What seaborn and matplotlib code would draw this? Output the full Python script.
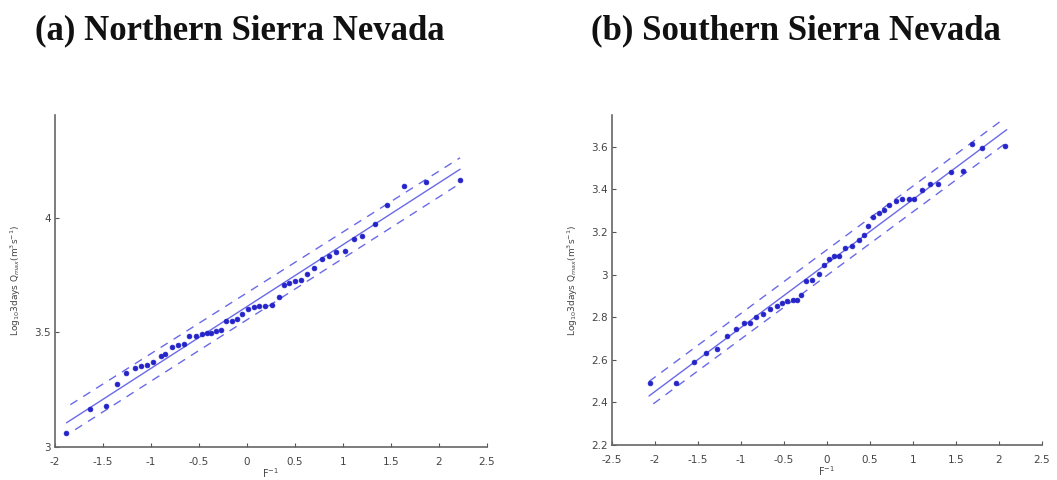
import matplotlib
matplotlib.use("Agg")
import matplotlib.pyplot as plt
import seaborn as sns
import pandas as pd

# Northern Sierra Nevada: reduced variate vs log10 3-day peak flow
north_x = [-1.88, -1.64, -1.47, -1.35, -1.26, -1.17, -1.10, -1.04, -0.98, -0.90,
           -0.85, -0.78, -0.72, -0.66, -0.60, -0.53, -0.47, -0.42, -0.37, -0.32,
           -0.27, -0.22, -0.16, -0.10, -0.05, 0.01, 0.07, 0.13, 0.19, 0.26,
           0.33, 0.39, 0.44, 0.50, 0.56, 0.63, 0.70, 0.78, 0.85, 0.93,
           1.02, 1.11, 1.20, 1.33, 1.46, 1.64, 1.87, 2.22]
north_y = [3.062, 3.165, 3.180, 3.276, 3.322, 3.346, 3.354, 3.357, 3.372, 3.398,
           3.404, 3.437, 3.443, 3.447, 3.484, 3.485, 3.492, 3.497, 3.499, 3.505,
           3.510, 3.549, 3.551, 3.560, 3.580, 3.600, 3.612, 3.614, 3.617, 3.620,
           3.656, 3.708, 3.714, 3.725, 3.728, 3.754, 3.782, 3.820, 3.833, 3.849,
           3.857, 3.908, 3.919, 3.974, 4.054, 4.139, 4.157, 4.164]
north_fit_x = [-1.88, 2.22]
north_fit_y = [3.105, 4.212]
north_up_x = [-1.84, 2.22]
north_up_y = [3.184, 4.262]
north_lo_x = [-1.79, 2.22]
north_lo_y = [3.075, 4.150]

# Southern Sierra Nevada
south_x = [-2.06, -1.76, -1.55, -1.41, -1.28, -1.16, -1.06, -0.97, -0.90, -0.83,
           -0.74, -0.66, -0.58, -0.52, -0.46, -0.40, -0.35, -0.30, -0.24, -0.17,
           -0.09, -0.04, 0.02, 0.08, 0.14, 0.21, 0.29, 0.37, 0.43, 0.48,
           0.54, 0.60, 0.66, 0.72, 0.80, 0.87, 0.95, 1.01, 1.10, 1.20,
           1.29, 1.44, 1.58, 1.69, 1.80, 2.07]
south_y = [2.490, 2.489, 2.588, 2.631, 2.651, 2.712, 2.747, 2.775, 2.775, 2.800,
           2.815, 2.838, 2.854, 2.868, 2.874, 2.881, 2.879, 2.905, 2.968, 2.976,
           3.004, 3.047, 3.073, 3.089, 3.086, 3.125, 3.133, 3.164, 3.188, 3.227,
           3.271, 3.290, 3.305, 3.329, 3.344, 3.355, 3.355, 3.355, 3.399, 3.426,
           3.427, 3.482, 3.485, 3.612, 3.594, 3.606]
south_fit_x = [-2.07, 2.09]
south_fit_y = [2.430, 3.681]
south_up_x = [-2.07, 2.07]
south_up_y = [2.498, 3.736]
south_lo_x = [-2.02, 2.07]
south_lo_y = [2.393, 3.615]

north_xticks = [-2, -1.5, -1, -0.5, 0, 0.5, 1, 1.5, 2, 2.5]
north_yticks = [3, 3.5, 4]
south_xticks = [-2.5, -2, -1.5, -1, -0.5, 0, 0.5, 1, 1.5, 2, 2.5]
south_yticks = [2.2, 2.4, 2.6, 2.8, 3, 3.2, 3.4, 3.6]

titles = ["(a) Northern Sierra Nevada", "(b) Southern Sierra Nevada"]
ylabel = r"Log$_{10}$3days Q$_{max}$(m$^3$s$^{-1}$)"
xlabel = r"F$^{-1}$"

sns.set_style("ticks")
plt.rcParams["font.family"] = ["DejaVu Sans"]

fig = plt.figure(figsize=(10.57, 4.8), dpi=100)
ax1 = fig.add_axes([0.052, 0.069, 0.4087, 0.692])
ax2 = fig.add_axes([0.579, 0.073, 0.4068, 0.6875])

dot_col = "#2424c8"
line_col = "#6a6ae8"


def draw(ax, px, py, fx, fy, ux, uy, lx, ly, xlim, ylim, xt, yt):
    sns.lineplot(data=pd.DataFrame({"x": fx, "y": fy}), x="x", y="y", ax=ax,
                 color=line_col, lw=1.0, estimator=None, sort=False)
    for bx, by in ((ux, uy), (lx, ly)):
        sns.lineplot(data=pd.DataFrame({"x": bx, "y": by}), x="x", y="y", ax=ax,
                     color=line_col, lw=1.0, estimator=None, sort=False,
                     linestyle=(0, (6, 5)))
    sns.scatterplot(data=pd.DataFrame({"x": px, "y": py}), x="x", y="y", ax=ax,
                    color=dot_col, s=12, edgecolor=dot_col, linewidth=0.5,
                    zorder=3)
    ax.set_xlim(*xlim)
    ax.set_ylim(*ylim)
    ax.set_xticks(xt)
    ax.set_yticks(yt)
    ax.set_xticklabels([f"{v:g}" for v in xt])
    ax.set_yticklabels([f"{v:g}" for v in yt])
    ax.tick_params(direction="in", length=3, width=0.8, colors="#555555",
                   labelsize=7.5, labelcolor="#444444")
    ax.tick_params(axis="x", pad=7)
    ax.tick_params(axis="y", pad=3)
    for side in ("top", "right"):
        ax.spines[side].set_visible(False)
    for side in ("left", "bottom"):
        ax.spines[side].set_color("#666666")
        ax.spines[side].set_linewidth(1.2)
    ax.set_xlabel(xlabel, fontsize=7, color="#444444", labelpad=0)
    ax.set_ylabel(ylabel, fontsize=6.5, color="#444444", labelpad=8)


draw(ax1, north_x, north_y, north_fit_x, north_fit_y, north_up_x, north_up_y,
     north_lo_x, north_lo_y, (-2, 2.5), (3, 4.45), north_xticks, north_yticks)
draw(ax2, south_x, south_y, south_fit_x, south_fit_y, south_up_x, south_up_y,
     south_lo_x, south_lo_y, (-2.5, 2.5), (2.2, 3.75), south_xticks, south_yticks)

for cx, text in zip((240, 796), titles):
    fig.text(cx / 1057, 1 - 31 / 480, text, ha="center", va="center",
             fontsize=25, fontweight="bold", family="Liberation Serif",
             color="#111111")

fig.savefig("out.png", dpi=100, facecolor="white")
